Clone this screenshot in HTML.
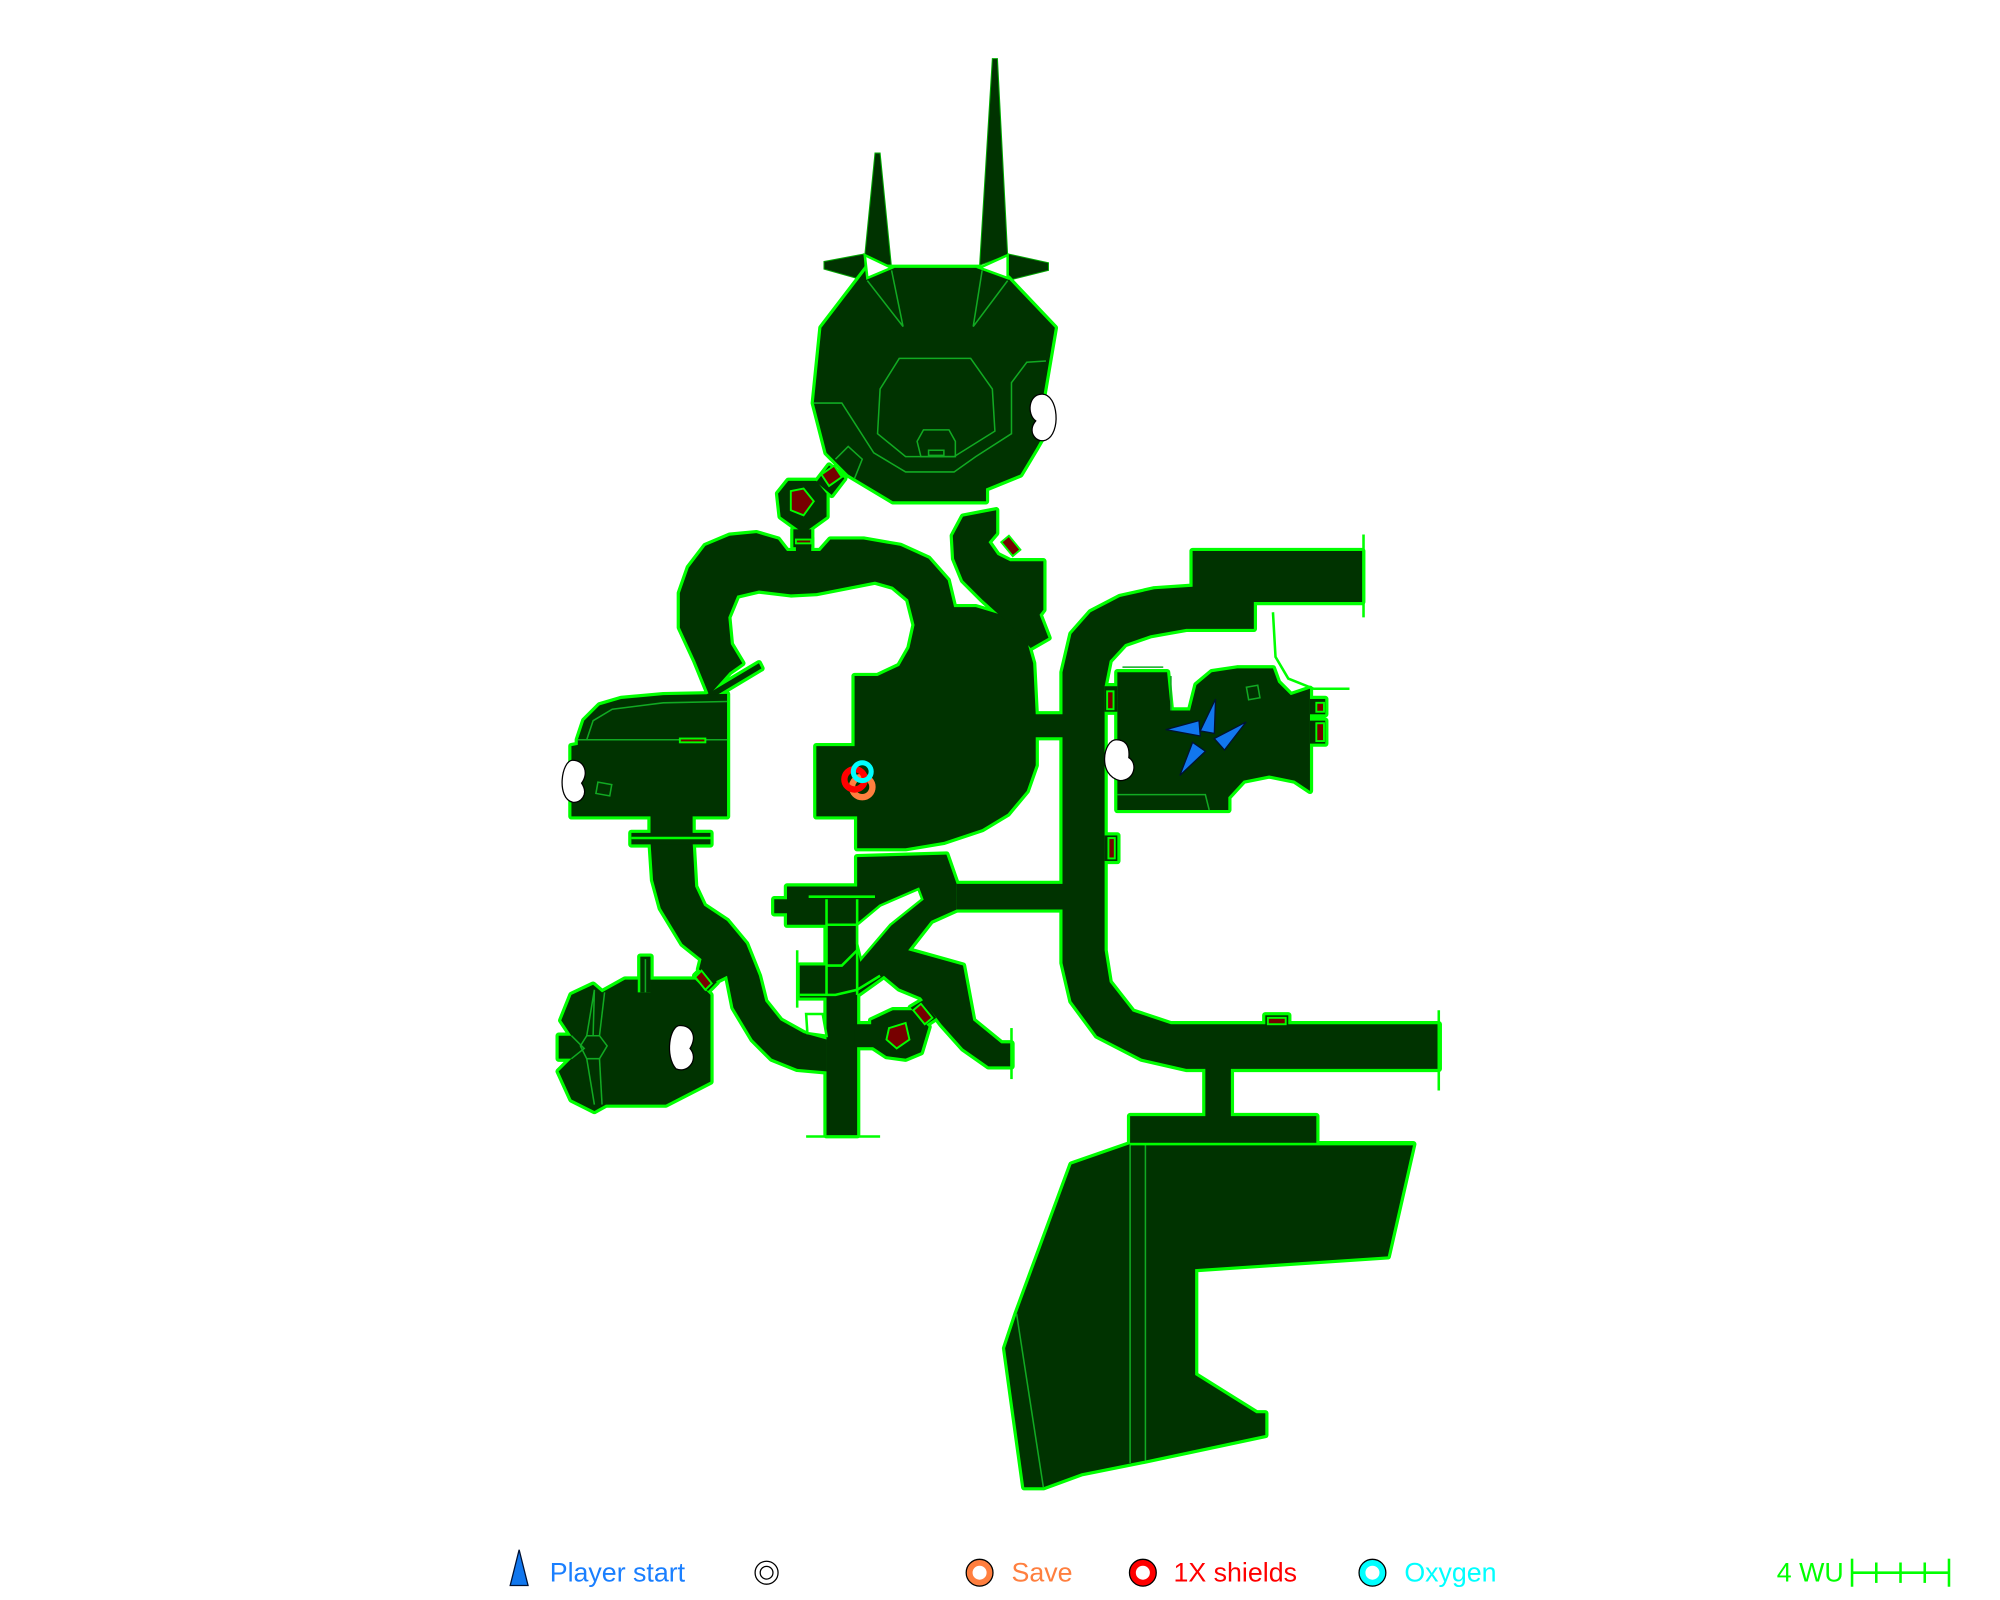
<!DOCTYPE html>
<html><head><meta charset="utf-8"><style>html,body{margin:0;padding:0;background:#fff}svg{display:block}</style></head>
<body>
<svg width="2000" height="1600" viewBox="0 0 1568 1254.4" xmlns="http://www.w3.org/2000/svg" font-family="Liberation Sans, DejaVu Sans, sans-serif">
<defs>
<g id="shapes">
<polygon points="680,210 699,210 768,210 790,218 827,257 818,310 816,345 812,352 800,372 773,383 773,393 700,393 665,372 655,362 648,355 638,316 644,257"/>
<polygon points="650,365 662,375 652,388 640,378"/>
<polygon points="618,377 640,377 648,387 648,405 630,418 612,405 610,387"/>
<rect x="622" y="415" width="14" height="14"/>
<polygon points="545,518 533,492 533,465 540,445 553,428 572,420 593,418 610,423 617,432 624,432 624,422 636,422 636,432 643,432 651,423 677,423 706,428 728,438 743,455 748,476 765,476 785,482 803,495 810,520 812,560 833,560 833,578 812,578 812,600 805,620 790,638 770,650 740,660 710,665 672,665 672,640 640,640 640,585 670,585 670,530 688,530 705,522 713,508 717,490 712,470 700,460 686,456 640,465 620,466 595,463 578,467 571,484 573,505 582,520 572,527 556,545"/>
<polygon points="548,548 595,520 597,524 552,551"/>
<polygon points="755,405 781,400 781,418 775,425 782,435 792,440 818,440 818,478 815,482 822,500 808,508 790,488 770,470 755,455 748,438 747,420"/>
<polygon points="833,527 840,497 855,480 878,468 905,462 935,460 935,432 1068,432 1068,472 983,472 983,493 930,493 902,498 882,505 870,518 866,538 866,745 870,770 888,793 918,803 1128,803 1128,838 965,838 965,875 1032,875 1032,896 886,896 886,875 945,875 945,838 930,838 895,830 860,812 840,785 833,755 833,713 750,713 750,693 833,693"/>
<rect x="992" y="796" width="18" height="10"/>
<polygon points="617,695 672,695 672,672 742,670 750,693 750,713 730,722 712,745 755,757 763,800 785,818 793,818 793,836 775,836 755,822 738,803 722,782 705,775 693,765 672,780 672,890 648,890 648,822 648,800 648,782 627,782 627,757 648,757 648,725 617,725 617,716 607,716 607,705 617,705"/>
<polygon points="683,800 700,792 715,792 728,805 722,825 710,830 695,828 683,820"/>
<polygon points="714,790 724,784 734,798 725,804"/>
<rect x="670" y="803" width="16" height="18"/>
<polygon points="510,660 512,690 518,712 535,740 550,752 548,760 560,770 570,765 575,790 590,815 605,830 625,838 648,840 648,815 630,810 612,800 600,785 595,765 585,740 570,722 552,710 545,695 543,660"/>
<polygon points="453,580 458,565 470,553 487,548 520,545 570,544 570,640 543,640 543,653 557,653 557,662 495,662 495,653 510,653 510,640 448,640 448,585 453,584"/>
<polygon points="440,800 448,780 465,772 472,778 490,768 500,768 500,778 510,778 510,768 545,768 557,780 557,848 522,866 475,866 466,871 448,862 438,840 448,830 438,830 438,812 448,812"/>
<rect x="502" y="750" width="8" height="28"/>
<polygon points="545,765 552,758 562,770 555,777"/>
<polygon points="876,527 915,527 918,557 933,557 938,537 950,527 970,524 998,524 1002,535 1012,545 1027,540 1027,620 1015,612 995,608 975,612 963,625 963,635 876,635"/>
<rect x="1027" y="548" width="12" height="12"/>
<rect x="1027" y="565" width="12" height="18"/>
<rect x="866" y="538" width="10" height="20"/>
<rect x="866" y="655" width="10" height="20"/>
<polygon points="886,897 1108,897 1088,985 937,995 937,1078 985,1108 992,1108 992,1125 898,1145 848,1155 818,1166 803,1166 788,1057 797,1030 840,913"/>
</g>
</defs>
<g fill="#003300" stroke="#00aa00" stroke-width="0.8">
<polygon points="678,200 686,120 690,120 699,210"/>
<polygon points="768,208 778,46 782,46 790,200"/>
<polygon points="646,205 678,199 678,220 646,211"/>
<polygon points="790,199 822,206 822,212 790,220"/>
</g>
<use href="#shapes" fill="#003300" stroke="#00ff00" stroke-width="5" stroke-linejoin="round"/>
<use href="#shapes" fill="#003300" stroke="none"/>
<g fill="#fff" stroke="#00ff00" stroke-width="2">
<polygon points="678,200 699,210 680,218"/>
<polygon points="790,200 768,210 790,218"/>
</g>
<g fill="none" stroke="#11aa22" stroke-width="1.2">
<polygon points="705,281 761,281 778,305 780,338 748,358 710,358 688,340 690,305"/>
<polygon points="724,337 744,337 749,346 749,358 722,358 719,346"/>
<rect x="728" y="353" width="12" height="4"/>
<polyline points="680,220 708,256 699,212"/>
<polyline points="790,220 763,256 770,212"/>
<polyline points="638,316 660,316 685,355 710,370 748,370 765,358 793,340 793,300 805,284 820,283"/>
<polyline points="655,360 665,350 676,360 670,375"/>
<polyline points="460,580 465,565 480,556 520,551 570,550"/>
<polyline points="453,580 570,580"/>
<rect x="468" y="614" width="11" height="9" transform="rotate(10 473 618)"/>
<rect x="978" y="538" width="9" height="10" transform="rotate(-10 982 543)"/>
<polyline points="880,523 912,523"/>
<polyline points="918,530 918,557"/>
<polyline points="876,623 945,623 948,635"/>
<polyline points="886,897 886,1147"/>
<polyline points="898,897 898,1145"/>
<polyline points="797,1030 818,1166"/>
<polyline points="448,812 458,822 448,830"/>
<polygon points="460,812 470,812 476,820 470,830 460,830 455,820"/>
<polyline points="460,812 466,776 465,812"/>
<polyline points="460,830 466,866"/>
<polyline points="470,830 472,866"/>
<polyline points="470,812 474,778"/>
<line x1="506" y1="752" x2="506" y2="778"/>
</g>
<g fill="none" stroke="#00ff00" stroke-width="2">
<line x1="634" y1="703" x2="686" y2="703"/>
<line x1="632" y1="891" x2="690" y2="891"/>
<line x1="625" y1="745" x2="625" y2="790"/>
<line x1="648" y1="705" x2="648" y2="780"/>
<line x1="672" y1="705" x2="672" y2="780"/>
<polyline points="648,725 672,725"/>
<polyline points="627,780 655,780 672,776 690,765"/>
<polyline points="648,757 660,757 672,745 695,722"/>
<line x1="793" y1="806" x2="793" y2="846"/>
<line x1="1128" y1="792" x2="1128" y2="855"/>
<line x1="1069" y1="419" x2="1069" y2="484"/>
<polyline points="998,480 1000,515 1010,532 1030,540 1058,540"/>
<line x1="495" y1="657" x2="557" y2="657"/>
<line x1="886" y1="897" x2="1108" y2="897"/>
</g>
<polygon points="690,710 720,697 723,705 698,725 675,752 672,740 672,725" fill="#fff" stroke="#00ff00" stroke-width="2"/>
<polygon points="632,795 645,795 648,812 633,810" fill="#fff" stroke="#00ff00" stroke-width="2"/>
<g fill="#770000" stroke="#00ff00" stroke-width="1.5">
<polygon points="620,385 630,383 638,393 630,404 620,400"/>
<polygon points="644,372 654,365 660,374 650,381"/>
<polygon points="785,425 791,420 800,431 794,436"/>
<polygon points="697,806 710,802 713,815 703,822 695,815"/>
<polygon points="716,792 722,787 731,798 725,803"/>
<polygon points="545,766 550,761 558,771 553,776"/>
<rect x="868" y="542" width="5" height="14"/>
<rect x="869" y="657" width="5" height="16"/>
<rect x="994" y="798" width="14" height="5"/>
<rect x="533" y="579" width="20" height="3"/>
<rect x="624" y="423" width="12" height="3"/>
<rect x="1032" y="551" width="6" height="7"/>
<rect x="1032" y="567" width="6" height="14"/>
</g>
<g fill="#fff" stroke="#000" stroke-width="1">
<path d="M817,309 C830,309 832,340 820,345 C812,348 805,338 812,330 C805,325 806,309 817,309Z"/>
<path d="M449,596 C440,596 436,626 449,629 C455,630 462,623 456,614 C462,606 458,596 449,596Z"/>
<path d="M875,580 C865,580 860,608 878,612 C890,612 892,598 885,594 C886,584 882,580 875,580Z"/>
<path d="M533,804 C525,804 521,828 530,838 C540,842 548,830 541,822 C547,812 542,804 533,804Z"/>
</g>
<g fill="#1177ee" stroke="#001133" stroke-width="1">
<polygon points="914,572 940,565 941,577"/>
<polygon points="953,548 952,575 941,573"/>
<polygon points="977,566 960,588 952,579"/>
<polygon points="935,582 945,589 925,608"/>
</g>
<g stroke="#000" stroke-width="0.8">
<circle cx="676" cy="617" r="8" fill="none" stroke="#ff7f3f" stroke-width="5"/>
<circle cx="670" cy="611" r="8" fill="none" stroke="#ff0000" stroke-width="5"/>
<circle cx="676" cy="605" r="7" fill="none" stroke="#00ffff" stroke-width="4"/>
</g>
<polygon points="400,1243 407,1215 414,1243" fill="#1177ee" stroke="#001133" stroke-width="1"/>
<text x="431" y="1240" font-size="21" fill="#1a7fff">Player start</text>
<circle cx="601" cy="1233" r="9" fill="#fff" stroke="#000" stroke-width="1"/>
<circle cx="601" cy="1233" r="5" fill="#fff" stroke="#000" stroke-width="1"/>
<circle cx="768" cy="1233" r="8" fill="#fff" stroke="#ff7f3f" stroke-width="5"/>
<circle cx="768" cy="1233" r="10.5" fill="none" stroke="#000" stroke-width="1"/>
<text x="793" y="1240" font-size="21" fill="#ff7f3f">Save</text>
<circle cx="896" cy="1233" r="8" fill="#fff" stroke="#ff0000" stroke-width="5"/>
<circle cx="896" cy="1233" r="10.5" fill="none" stroke="#000" stroke-width="1"/>
<text x="920" y="1240" font-size="21" fill="#ff0000">1X shields</text>
<circle cx="1076" cy="1233" r="8" fill="#fff" stroke="#00ffff" stroke-width="5"/>
<circle cx="1076" cy="1233" r="10.5" fill="none" stroke="#000" stroke-width="1"/>
<text x="1101" y="1240" font-size="21" fill="#00ffff">Oxygen</text>
<text x="1393" y="1240" font-size="21" fill="#00ff00">4 WU</text>
<g stroke="#00ff00" stroke-width="2">
<line x1="1452" y1="1233" x2="1528" y2="1233"/>
<line x1="1452" y1="1222" x2="1452" y2="1244"/>
<line x1="1471" y1="1225" x2="1471" y2="1241"/>
<line x1="1490" y1="1225" x2="1490" y2="1241"/>
<line x1="1509" y1="1225" x2="1509" y2="1241"/>
<line x1="1528" y1="1222" x2="1528" y2="1244"/>
</g>
</svg>
</body></html>
